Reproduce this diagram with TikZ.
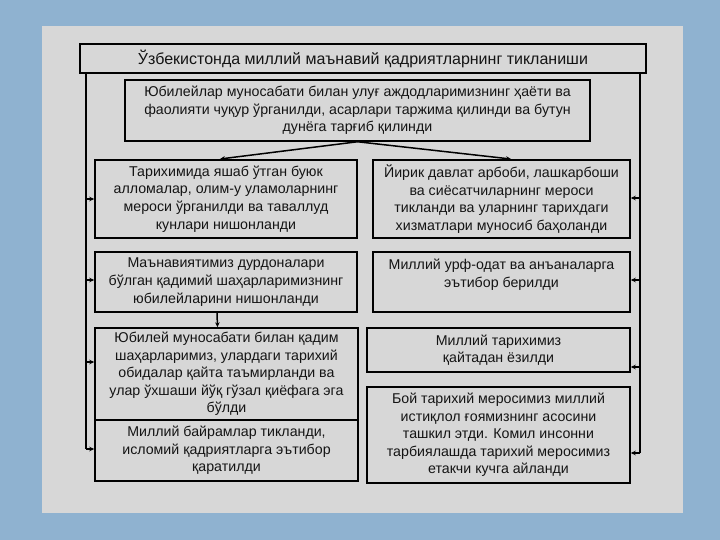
\documentclass[tikz,border=0pt]{standalone}
\usepackage{fontspec}
\setmainfont{Liberation Sans}
\usetikzlibrary{arrows.meta}
\definecolor{bgblue}{RGB}{143,178,208}
\definecolor{panelgray}{RGB}{215,215,215}
\definecolor{ink}{RGB}{20,20,20}

\begin{document}
\begin{tikzpicture}[x=1pt,y=-1pt,
  box/.style={draw=black,line width=1.5pt,inner sep=0pt,align=center,text=ink,
    font=\fontsize{14.2}{17.6}\selectfont},
  arr/.style={line width=1.5pt,-{Stealth[length=5pt,width=4.5pt]}}]
\useasboundingbox (0,0) rectangle (720,540);
\fill[bgblue] (0,0) rectangle (720,540);
\fill[panelgray] (42,26) rectangle (683,513);
% title and first box
\node[box,minimum width=566pt,minimum height=29pt,font=\fontsize{16}{19}\selectfont] (title) at (363,58.5)
  {Ўзбекистонда миллий маънавий қадриятларнинг тикланиши};
\node[box,minimum width=465pt,minimum height=61pt] (jub) at (357.5,110.5)
  {Юбилейлар муносабати билан улуғ аждодларимизнинг ҳаёти ва\\
   фаолияти чуқур ўрганилди, асарлари таржима қилинди ва бутун\\
   дунёга тарғиб қилинди};
% left column
\node[box,minimum width=262pt,minimum height=78pt] (l1) at (226,199)
  {Тарихимида яшаб ўтган буюк\\алломалар, олим-у уламоларнинг\\мероси ўрганилди ва таваллуд\\кунлари нишонланди};
\node[box,minimum width=262pt,minimum height=60pt] (l2) at (226,282)
  {Маънавиятимиз дурдоналари\\бўлган қадимий шаҳарларимизнинг\\юбилейларини нишонланди};
\node[box,minimum width=263pt,minimum height=92pt] (l3) at (226.5,374)
  {Юбилей муносабати билан қадим\\шаҳарларимиз, улардаги тарихий\\обидалар қайта таъмирланди ва\\улар ўхшаши йўқ гўзал қиёфага эга\\бўлди};
\node[box,minimum width=263pt,minimum height=61pt] (l4) at (226.5,450.5)
  {Миллий байрамлар тикланди,\\исломий қадриятларга эътибор\\қаратилди};
% right column
\node[box,minimum width=257pt,minimum height=78pt] (r1) at (501.5,199)
  {Йирик давлат арбоби, лашкарбоши\\ва сиёсатчиларнинг мероси\\тикланди ва уларнинг тарихдаги\\хизматлари муносиб баҳоланди};
\node[box,minimum width=257pt,minimum height=60pt] (r2) at (501.5,282)
  {Миллий урф-одат ва анъаналарга\\эътибор берилди\\\mbox{}};
\node[box,minimum width=263pt,minimum height=44pt] (r3) at (498.5,350)
  {Миллий тарихимиз\\қайтадан ёзилди};
\node[box,minimum width=263pt,minimum height=96pt] (r4) at (498.5,435)
  {Бой тарихий меросимиз миллий\\истиқлол ғоямизнинг асосини\\ташкил этди. Комил инсонни\\тарбиялашда тарихий меросимиз\\етакчи кучга айланди};
% connectors
\draw[arr,shorten >=2pt] (jub.south) -- ([xshift=-8pt]l1.north);
\draw[arr,shorten >=2pt] (jub.south) -- ([xshift=11.5pt]r1.north);
\draw[arr] ([xshift=-9pt]l2.south) -- ([xshift=-9pt]l3.north);
\coordinate (spl) at (title.south -| 86,0);
\coordinate (spr) at (title.south -| 640,0);
\draw[line width=1.5pt] (spl) -- (spl |- 0,449);
\draw[line width=1.5pt] (spr) -- (spr |- 0,453);
\foreach \n/\y in {l1/199,l2/280,l3/362,l4/449}
  \draw[arr] (spl |- 0,\y) -- (\n.west |- 0,\y);
\foreach \n/\y in {r1/198,r2/280,r3/367,r4/453}
  \draw[arr] (spr |- 0,\y) -- (\n.east |- 0,\y);
\end{tikzpicture}
\end{document}
